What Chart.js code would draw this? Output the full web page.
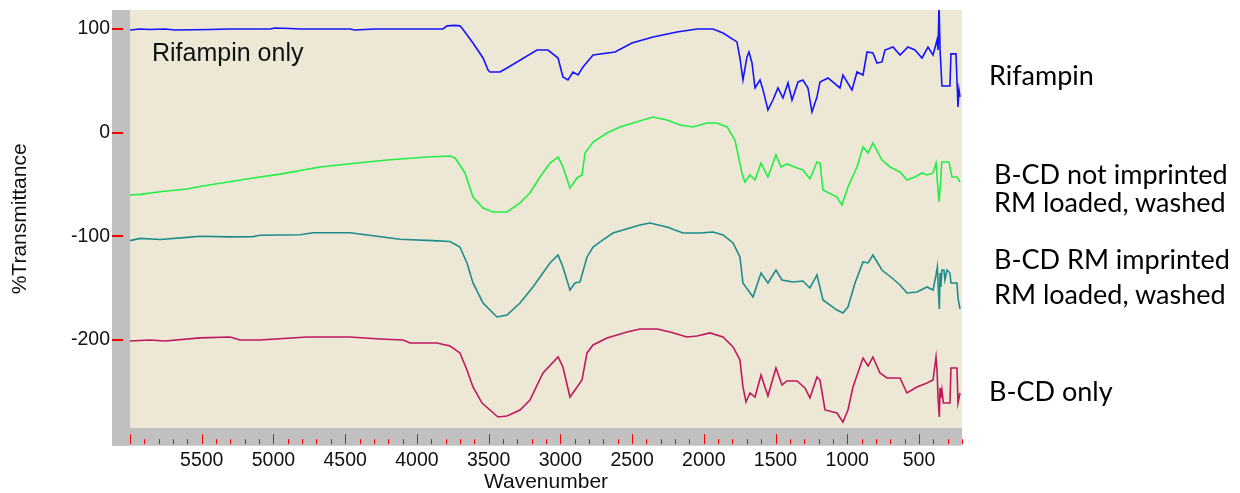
<!DOCTYPE html>
<html>
<head>
<meta charset="utf-8">
<script src="https://cdn.jsdelivr.net/npm/chart.js@4.4.1/dist/chart.umd.min.js"></script>
<style>
  html, body { margin: 0; padding: 0; background: #fff; }
  #wrap { position: relative; width: 1240px; height: 493px; overflow: hidden; }
  canvas { display: block; }
  .name { position: absolute; font-family: Lato, "Open Sans", sans-serif; font-size: 27px; line-height: 30px; color: #000; white-space: nowrap; }
  .inset { position: absolute; font-family: "Liberation Sans", Arial, sans-serif; font-size: 25px; line-height: 28px; color: #111; white-space: nowrap; }
</style>
</head>
<body>
<div id="wrap">
  <canvas id="ir" width="1240" height="493"></canvas>
  <div class="inset" style="left:152px;top:38px">Rifampin only</div>
  <div class="name" style="left:989px;top:60px">Rifampin</div>
  <div class="name" style="left:994px;top:159px">B-CD not imprinted</div>
  <div class="name" style="left:994px;top:187px">RM loaded, washed</div>
  <div class="name" style="left:994px;top:244px">B-CD RM imprinted</div>
  <div class="name" style="left:994px;top:279px">RM loaded, washed</div>
  <div class="name" style="left:989px;top:376px">B-CD only</div>
</div>
<script>
// Axis ticks
const yTickValues = [100, 0, -100, -200];
const xTickValues = [5500, 5000, 4500, 4000, 3500, 3000, 2500, 2000, 1500, 1000, 500];

// Rifampin
const rifampinWn = [6000,5930,5861,5756,5686,5442,5303,5024,4989,4885,4815,4466,4432,4292,3818,3790,3734,3700,3686,3609,3539,3504,3490,3421,3372,3163,3086,3016,2982,2947,2912,2877,2842,2772,2619,2501,2354,2187,2047,1936,1866,1769,1748,1727,1699,1685,1664,1643,1608,1587,1553,1518,1483,1448,1413,1385,1343,1309,1274,1246,1211,1190,1134,1051,1030,967,932,890,862,821,793,758,737,681,632,577,528,479,437,402,374,367,360,353,340,284,277,242,235,228,221,214];
const rifampinT  = [99,100,99.5,100,99,99.5,100,100,101,100.5,100,100,99,100,100,103,103.5,103,101,86.5,72,60.4,58.5,58.5,62.4,79.7,79.7,72,53.7,50.8,58.5,55.6,63.3,74.9,77.8,86.5,92.3,97.1,100,100,96.1,87.5,72,50.8,73,77.8,67.2,43.1,50.8,41.2,21.9,31.5,43.1,33.4,47.9,31.5,48.9,50.8,43.1,19.9,34.4,48.9,52.7,43.1,55.6,41.2,58.5,55.6,77.8,76.8,67.2,68.2,79.7,82.6,74.9,82.6,79.7,72,82.6,74.9,89.4,79.7,125,79.7,45,45,76,76,50.8,24.8,41.2,34.4];

// B-CD not imprinted, RM loaded, washed
const notImprintedWn = [6000,5930,5791,5603,5512,5143,4954,4675,4466,4208,3930,3769,3734,3665,3609,3539,3469,3372,3281,3212,3142,3072,3016,2982,2933,2884,2849,2828,2772,2675,2584,2494,2354,2257,2166,2075,1978,1908,1838,1783,1734,1713,1678,1643,1601,1553,1497,1462,1420,1350,1309,1260,1211,1190,1169,1072,1037,995,932,890,855,821,758,702,632,584,528,479,444,402,381,374,360,348,341,291,270,235,214];
const notImprintedT  = [-60.1,-59.5,-57,-54.3,-52,-43.7,-40,-33.1,-30,-26.4,-23.5,-22.5,-24.4,-38.9,-62.1,-72.7,-76.5,-76.5,-67.8,-58.2,-42.8,-29.3,-23.5,-33.1,-53.4,-43.7,-40.8,-19.6,-9,-0.3,5.5,9.3,15.1,12.2,7.4,5.5,9.3,9.3,5.5,-7.1,-38.9,-47.6,-40.8,-45.7,-29.3,-42.8,-21.5,-33.1,-30.2,-34.1,-36,-44.7,-28.3,-29.3,-55.3,-62.1,-69.8,-52.4,-33.1,-13.8,-19.6,-10,-26.4,-33.1,-37.9,-45.7,-42.8,-38.9,-40.8,-38.9,-29.3,-42.8,-66.9,-45.7,-28.3,-28.3,-42.8,-42.8,-47.6];

// B-CD RM imprinted, RM loaded, washed
const imprintedWn = [6000,5930,5791,5603,5512,5303,5143,5094,4815,4724,4466,4118,3888,3769,3700,3651,3609,3539,3442,3372,3281,3191,3072,3016,2982,2933,2898,2863,2814,2772,2703,2633,2445,2375,2257,2145,2027,1936,1866,1796,1748,1727,1657,1601,1553,1497,1455,1378,1309,1260,1211,1169,1072,1030,995,946,890,855,821,758,688,632,584,514,444,402,381,372,367,358,353,347,340,326,319,305,284,277,235,228,214];
const imprintedT  = [-104.2,-102,-103,-101,-100,-100.5,-100.3,-99,-98.5,-96.5,-96.5,-102.9,-104.2,-105,-110.3,-125.7,-145,-164.3,-177.8,-175.9,-164.3,-148.9,-125.7,-118,-129.6,-151.8,-145,-144,-119.9,-110.3,-103.5,-96.8,-89.1,-87.1,-91,-96.8,-96.8,-95.8,-98.7,-106.4,-119.9,-145,-158.5,-135.4,-145,-132.5,-142.1,-144,-143.1,-149.8,-137.3,-161.4,-171.1,-173.9,-168.2,-145,-124.7,-125.7,-118,-132.5,-140.2,-146.9,-154.7,-153.7,-148.9,-151.8,-137.3,-129.6,-145,-170.1,-135.4,-148.9,-132.5,-132.5,-142.1,-132.5,-135.4,-145,-145,-159.5,-170.1];

// B-CD only
const bcdOnlyWn = [6000,5861,5756,5512,5303,5233,5094,4766,4466,4257,4097,4048,3860,3769,3700,3651,3609,3546,3435,3372,3281,3212,3121,3016,2982,2933,2898,2849,2814,2772,2675,2535,2445,2326,2236,2117,2047,1957,1866,1796,1748,1727,1706,1678,1643,1601,1553,1497,1455,1420,1350,1295,1260,1211,1190,1155,1072,1030,995,960,890,855,821,772,723,632,584,514,444,402,381,374,367,358,353,347,340,330,284,277,235,228,214];
const bcdOnlyT  = [-201,-200,-201,-198,-197.1,-200,-200,-197.1,-197.1,-199,-200,-202.9,-202.9,-205.8,-212.5,-228.9,-245.3,-260.8,-274.3,-273.3,-267.5,-257.9,-231.8,-216.4,-226,-255,-248.2,-238.6,-212.5,-204.8,-198.1,-192.3,-189.4,-189.4,-192.3,-197.1,-196.1,-193.2,-197.1,-206.7,-219.3,-245.3,-259.8,-251.1,-255,-233.8,-254,-227,-243.4,-239.5,-239.5,-246.3,-255.9,-235.7,-238.6,-267.5,-270.4,-279.1,-267.5,-245.3,-217.4,-225.1,-216.4,-231.8,-236.6,-236.6,-251.1,-245.3,-241.5,-238.6,-216.4,-228.9,-255.9,-274.3,-246.3,-255.9,-248.2,-260.8,-260.8,-227,-227,-260.8,-251.1];

const pairs = (wn, t) => wn.map((w, i) => ({ x: w, y: t[i] }));

// Grey frame, beige plot field and red tick marks
const frame = {
  id: 'frame',
  beforeDraw(chart) {
    const { ctx, chartArea: a, scales: { x, y } } = chart;
    const band = 18;
    ctx.save();
    ctx.fillStyle = '#c0c0c0';
    ctx.fillRect(a.left - band, a.top, band, a.bottom - a.top + band);
    ctx.fillRect(a.left - band, a.bottom, a.right - a.left + band, band);
    ctx.fillStyle = '#ece8d5';
    ctx.fillRect(a.left, a.top, a.right - a.left, a.bottom - a.top);
    ctx.strokeStyle = '#ff0000';
    ctx.lineWidth = 1;
    for (let w = 6000; w >= 200; w -= 100) {
      const px = Math.round(x.getPixelForValue(w)) + 0.5;
      const major = w % 500 === 0;
      ctx.beginPath();
      ctx.moveTo(px, a.bottom + (major ? 6.5 : 11.5));
      ctx.lineTo(px, a.bottom + 16.5);
      ctx.stroke();
    }
    ctx.fillStyle = '#ff0000';
    yTickValues.forEach(v => {
      const py = Math.round(y.getPixelForValue(v));
      ctx.fillRect(a.left - band, py - 1, 11, 2);
    });
    ctx.restore();
  }
};

const axisFont = { family: '"Liberation Sans", Arial, sans-serif', size: 19.5, lineHeight: 1.2 };
const plain = v => String(v);

new Chart(document.getElementById('ir'), {
  type: 'line',
  data: {
    datasets: [
      { label: 'Rifampin', data: pairs(rifampinWn, rifampinT), borderColor: '#1414ff' },
      { label: 'B-CD not imprinted RM loaded, washed', data: pairs(notImprintedWn, notImprintedT), borderColor: '#24ee46' },
      { label: 'B-CD RM imprinted RM loaded, washed', data: pairs(imprintedWn, imprintedT), borderColor: '#1e8c8c' },
      { label: 'B-CD only', data: pairs(bcdOnlyWn, bcdOnlyT), borderColor: '#c0185c' }
    ].map(d => Object.assign(d, { borderWidth: 1.6, pointRadius: 0, tension: 0, fill: false }))
  },
  options: {
    responsive: false,
    devicePixelRatio: 1,
    animation: false,
    events: [],
    layout: { autoPadding: false, padding: { top: 10, right: 278, left: 0, bottom: 0 } },
    plugins: { legend: { display: false }, tooltip: { enabled: false } },
    scales: {
      x: {
        type: 'linear',
        reverse: true,
        min: 200,
        max: 6000,
        border: { display: false },
        grid: { display: false, drawTicks: false },
        afterFit(scale) { scale.height = 65.3; scale.paddingLeft = 0; scale.paddingRight = 0; },
        afterBuildTicks(scale) { scale.ticks = xTickValues.map(v => ({ value: v })); },
        ticks: { autoSkip: false, maxRotation: 0, padding: 21, color: '#111', font: axisFont, callback: plain },
        title: { display: true, text: 'Wavenumber', color: '#111', padding: { top: 0, bottom: 0 },
                 font: { family: '"Liberation Sans", Arial, sans-serif', size: 21, lineHeight: 1.0 } }
      },
      y: {
        type: 'linear',
        min: -284.6,
        max: 118.3,
        border: { display: false },
        grid: { display: false, drawTicks: false },
        afterFit(scale) { scale.width = 130; scale.paddingTop = 0; scale.paddingBottom = 0; },
        afterBuildTicks(scale) { scale.ticks = yTickValues.map(v => ({ value: v })); },
        ticks: { padding: 20, color: '#111', font: axisFont, callback: plain },
        title: { display: true, text: '%Transmittance', color: '#111', padding: { top: 10, bottom: 0 },
                 font: { family: '"Liberation Sans", Arial, sans-serif', size: 21, lineHeight: 1.0 } }
      }
    }
  },
  plugins: [frame]
});
</script>
</body>
</html>
